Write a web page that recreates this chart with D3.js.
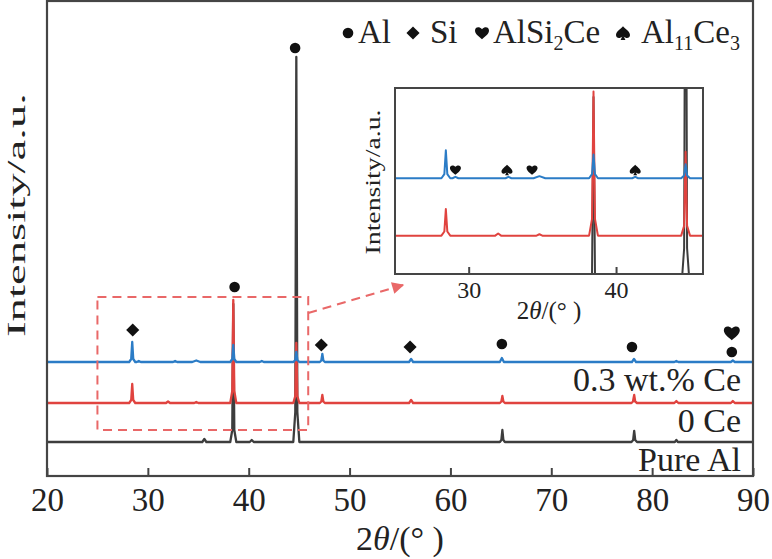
<!DOCTYPE html>
<html>
<head>
<meta charset="utf-8">
<script src="https://cdn.jsdelivr.net/npm/d3@7"></script>
<style>
  body { margin: 0; background: #fff; }
  text { font-family: "Liberation Serif", "Times New Roman", serif; fill: #222; }
</style>
</head>
<body>
<svg id="chart" width="772" height="559"></svg>
<script>
// XRD patterns, [2theta, intensity a.u.] (relative to each trace's own baseline)
var pureAl = [[20,0],[35.4,0],[35.6,3],[35.8,0],[38.17,0],[38.37,12],[38.47,138],[38.57,12],[38.77,0],
  [40.1,0],[40.3,2],[40.5,0],[44.42,0],[44.62,30],[44.72,385],[44.82,30],[45.02,0],
  [64.9,0],[65.05,2],[65.15,12],[65.25,2],[65.4,0],[77.95,0],[78.12,2],[78.22,11],[78.32,2],[78.5,0],
  [82.25,0],[82.4,2],[82.55,0],[90,0]];
var ceZero = [[20,0],[28.15,0],[28.35,3],[28.45,19],[28.55,3],[28.75,0],[31.8,0],[32.0,1.5],[32.2,0],
  [34.6,0],[34.8,1],[35.0,0],[38.17,0],[38.37,12],[38.47,103],[38.57,12],[38.77,0],
  [44.42,0],[44.62,7],[44.72,60],[44.82,7],[45.02,0],[47.05,0],[47.2,1.5],[47.3,8],[47.4,1.5],[47.55,0],
  [55.9,0],[56.1,3],[56.3,0],[64.9,0],[65.05,1.5],[65.15,7],[65.25,1.5],[65.4,0],
  [77.95,0],[78.1,1.5],[78.22,8],[78.32,1.5],[78.5,0],[82.2,0],[82.4,2],[82.6,0],[87.8,0],[88,2],[88.2,0],[90,0]];
var ceAdded = [[20,0],[28.15,0],[28.35,3],[28.45,20],[28.55,3],[28.75,0],[28.9,0],[29.1,1],[29.3,0],
  [32.5,0],[32.7,1],[32.9,0],[34.4,0],[34.8,1.5],[35.2,0],[38.17,0],[38.37,3],[38.47,17],[38.57,3],[38.77,0],
  [41.1,0],[41.3,1],[41.5,0],[44.42,0],[44.62,2],[44.72,10],[44.82,2],[45.02,0],
  [47.05,0],[47.2,1.5],[47.3,8],[47.4,1.5],[47.55,0],[55.9,0],[56.1,3],[56.3,0],
  [64.9,0],[65.1,4],[65.3,0],[78.0,0],[78.2,3],[78.4,0],[82.2,0],[82.4,1],[82.6,0],[87.8,0],[88,1.5],[88.2,0],[90,0]];

var seriesNames = ["Pure Al", "0 Ce", "0.3 wt.% Ce"];
var stackOffset = [0, 39, 80];
var seriesColors = ["#3d3d3d", "#e0433f", "#2b7cc6"];

// phase markers (main plot)
var markerType  = ["dot","dot","diamond","diamond","diamond","dot","dot","heart","dot"];
var markerTheta = [44.6, 38.6, 28.5, 47.2, 56.0, 65.1, 78.0, 87.9, 87.9];
var markerLevel = [394, 155, 112, 97, 95, 98, 95, 109, 90];

// phase markers (inset)
var insetMarkerType  = ["heart","spade","heart","spade"];
var insetMarkerTheta = [29.1, 32.6, 34.3, 41.3];
var insetMarkerLevel = [86, 86, 86, 86];

var xTicks = [20, 30, 40, 50, 60, 70, 80, 90];
var insetTicks = [30, 40];
var legendNames = ["Al", "Si", "AlSi_2Ce", "Al_11Ce_3"];
var legendType = ["dot", "diamond", "heart", "spade"];

var svg = d3.select("#chart");

// main scales
var x = d3.scaleLinear().domain([20, 90]).range([47, 753]);
var y = d3.scaleLinear().domain([-34, 441]).range([476, 1]);
// inset scales (zoom on 25-46 deg)
var xi = d3.scaleLinear().domain([25, 45.9]).range([395, 703]);
var yi = d3.scaleLinear().domain([11.6, 144.5]).range([274, 88]);

var defs = svg.append("defs");
defs.append("clipPath").attr("id", "clipMain").append("rect")
  .attr("x", 47).attr("y", 1).attr("width", 706).attr("height", 475);
defs.append("clipPath").attr("id", "clipInset").append("rect")
  .attr("x", xi.range()[0]).attr("y", yi.range()[1])
  .attr("width", xi.range()[1] - xi.range()[0]).attr("height", yi.range()[0] - yi.range()[1]);
defs.append("marker").attr("id", "arrowHead")
  .attr("viewBox", "0 0 10 10").attr("refX", 9).attr("refY", 5)
  .attr("markerUnits", "userSpaceOnUse").attr("markerWidth", 16).attr("markerHeight", 12)
  .attr("orient", "auto")
  .append("path").attr("d", "M0,0L10,5L0,10Z").attr("fill", "#e96868");

var heartPath = "M0,0.9C-0.3,0.6 -1,0.2 -1,-0.35C-1,-0.8 -0.45,-1 0,-0.55C0.45,-1 1,-0.8 1,-0.35C1,0.2 0.3,0.6 0,0.9Z";
var spadePath = "M0,-0.95C-0.3,-0.6 -1,-0.2 -1,0.3C-1,0.75 -0.45,0.85 -0.1,0.5L-0.35,1L0.35,1L0.1,0.5C0.45,0.85 1,0.75 1,0.3C1,-0.2 0.3,-0.6 0,-0.95Z";

function drawMarker(g, type, cx, cy, k) {
  k = k || 7;
  if (type === "dot") {
    g.append("circle").attr("cx", cx).attr("cy", cy).attr("r", 5.3).attr("fill", "#111");
  } else if (type === "diamond") {
    g.append("path").attr("d", d3.symbol(d3.symbolDiamond2, 110)())
      .attr("transform", "translate(" + cx + "," + cy + ")").attr("fill", "#111");
  } else {
    g.append("path").attr("d", type === "heart" ? heartPath : spadePath)
      .attr("transform", "translate(" + cx + "," + cy + ") scale(" + k + ")").attr("fill", "#111");
  }
}

var allSeries = [pureAl, ceZero, ceAdded];

// main traces
var main = svg.append("g").attr("clip-path", "url(#clipMain)");
allSeries.forEach(function(s, i) {
  var line = d3.line().x(function(d) { return x(d[0]); })
    .y(function(d) { return y(d[1] + stackOffset[i]); });
  main.append("path").datum(s).attr("d", line)
    .attr("fill", "none").attr("stroke", seriesColors[i]).attr("stroke-width", 2.3)
    .attr("stroke-linejoin", "round");
});

// dashed zoom box and arrow
svg.append("rect")
  .attr("x", x(25)).attr("y", y(145))
  .attr("width", x(45.9) - x(25)).attr("height", y(12) - y(145))
  .attr("fill", "none").attr("stroke", "#e96868").attr("stroke-width", 2)
  .attr("stroke-dasharray", "9,6");
svg.append("line")
  .attr("x1", x(45.9)).attr("y1", y(129)).attr("x2", x(55.3)).attr("y2", y(157))
  .attr("stroke", "#e96868").attr("stroke-width", 2).attr("stroke-dasharray", "9,6")
  .attr("marker-end", "url(#arrowHead)");

// phase markers
var mk = svg.append("g");
markerType.forEach(function(t, i) { drawMarker(mk, t, x(markerTheta[i]), y(markerLevel[i]), 8); });

// trace labels
seriesNames.forEach(function(n, i) {
  svg.append("text").attr("x", 741).attr("y", y(stackOffset[i]) + 29)
    .attr("text-anchor", "end").attr("font-size", 34).text(n);
});

// legend
var legX = [348, 413, 482, 623];
var legTextX = [358, 430, 493, 641];
legendNames.forEach(function(n, i) {
  drawMarker(svg, legendType[i], legX[i], 33, 7);
  var t = svg.append("text").attr("x", legTextX[i]).attr("y", 43).attr("font-size", 33);
  var parts = n.split("_");
  parts.forEach(function(p, j) {
    if (j === 0) { t.append("tspan").text(p); return; }
    var m = p.match(/^(\d+)(.*)$/);
    t.append("tspan").attr("font-size", 20).attr("dy", 7).text(m[1]);
    if (m[2]) t.append("tspan").attr("dy", -7).text(m[2]);
  });
});

// main x axis
var xAxis = d3.axisBottom(x).tickValues(xTicks).tickSizeInner(-8).tickSizeOuter(0).tickPadding(12);
var ax = svg.append("g").attr("transform", "translate(0,476)").call(xAxis);
ax.select(".domain").remove();
ax.selectAll(".tick line").attr("stroke", "#444").attr("stroke-width", 2);
ax.selectAll(".tick text").attr("font-size", 33).attr("font-family", "Liberation Serif, serif").attr("fill", "#222");

// main frame
svg.append("rect").attr("x", 47).attr("y", 1).attr("width", 706).attr("height", 475)
  .attr("fill", "none").attr("stroke", "#454545").attr("stroke-width", 2.2);

// axis titles
var xt = svg.append("text").attr("x", 400).attr("y", 550).attr("text-anchor", "middle").attr("font-size", 34);
xt.append("tspan").text("2");
xt.append("tspan").attr("font-style", "italic").text("\u03b8");
xt.append("tspan").text("/(\u00b0 )");
svg.append("text").attr("transform", "translate(25,215) rotate(-90)")
  .attr("text-anchor", "middle").attr("font-size", 26)
  .attr("textLength", 244).attr("lengthAdjust", "spacingAndGlyphs")
  .text("Intensity/a.u.");

// inset
var inset = svg.append("g");
inset.append("rect").attr("x", 395).attr("y", 88).attr("width", 308).attr("height", 186).attr("fill", "#fff");
var insetPlot = inset.append("g").attr("clip-path", "url(#clipInset)");
allSeries.forEach(function(s, i) {
  var line = d3.line().x(function(d) { return xi(d[0]); })
    .y(function(d) { return yi(d[1] + stackOffset[i]); });
  insetPlot.append("path").datum(s).attr("d", line)
    .attr("fill", "none").attr("stroke", seriesColors[i]).attr("stroke-width", 2)
    .attr("stroke-linejoin", "round");
});
insetMarkerType.forEach(function(t, i) {
  drawMarker(inset, t, xi(insetMarkerTheta[i]), yi(insetMarkerLevel[i]), 5.5);
});
var xiAxis = d3.axisBottom(xi).tickValues(insetTicks).tickSizeInner(-7).tickSizeOuter(0).tickPadding(7);
var iax = inset.append("g").attr("transform", "translate(0,274)").call(xiAxis);
iax.select(".domain").remove();
iax.selectAll(".tick line").attr("stroke", "#444").attr("stroke-width", 2);
iax.selectAll(".tick text").attr("font-size", 24).attr("font-family", "Liberation Serif, serif").attr("fill", "#222");
inset.append("rect").attr("x", 395).attr("y", 88).attr("width", 308).attr("height", 186)
  .attr("fill", "none").attr("stroke", "#454545").attr("stroke-width", 2);
var ixt = inset.append("text").attr("x", 549).attr("y", 319).attr("text-anchor", "middle").attr("font-size", 25);
ixt.append("tspan").text("2");
ixt.append("tspan").attr("font-style", "italic").text("\u03b8");
ixt.append("tspan").text("/(\u00b0 )");
inset.append("text").attr("transform", "translate(380,182) rotate(-90)")
  .attr("text-anchor", "middle").attr("font-size", 20)
  .attr("textLength", 145).attr("lengthAdjust", "spacingAndGlyphs")
  .text("Intensity/a.u.");
</script>
</body>
</html>
